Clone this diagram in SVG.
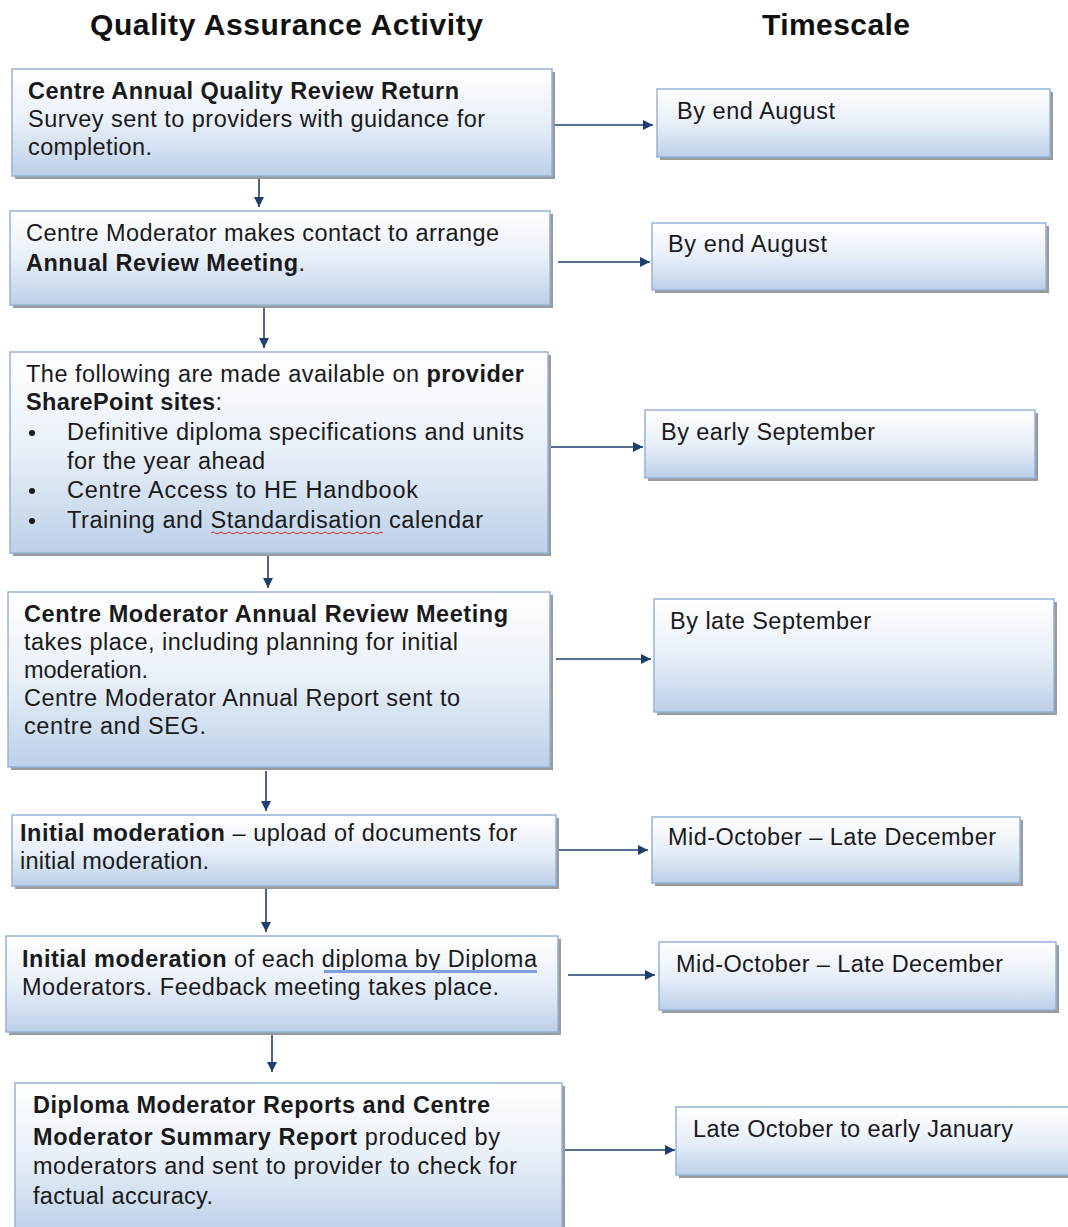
<svg xmlns="http://www.w3.org/2000/svg" width="1068" height="1227" viewBox="0 0 1068 1227">
<style>
.t{font-family:"Liberation Sans",Arial,sans-serif;font-size:23.5px;fill:#1a1a1a}
.h{font-family:"Liberation Sans",Arial,sans-serif;font-size:30px;font-weight:bold;fill:#111}
.b{font-weight:bold}
.box{fill:url(#g);stroke:#95b3d7;stroke-width:1.5}
.sh{fill:#9a9a9a}
.c{stroke:#1f3f6e;stroke-width:1.6;fill:none;marker-end:url(#ah)}
</style>
<defs>
<linearGradient id="g" x1="0" y1="0" x2="0" y2="1">
<stop offset="0" stop-color="#ffffff"/>
<stop offset="0.5" stop-color="#e8eff8"/>
<stop offset="1" stop-color="#bcd0e8"/>
</linearGradient>
<marker id="ah" viewBox="0 0 10 10" refX="10" refY="5" markerWidth="10" markerHeight="10" markerUnits="userSpaceOnUse" orient="auto">
<path d="M0,0 L10,5 L0,10 z" fill="#1f3f6e"/>
</marker>
</defs>
<text class="h" x="90" y="35" textLength="393" lengthAdjust="spacing">Quality Assurance Activity</text>
<text class="h" x="762" y="35" textLength="148" lengthAdjust="spacing">Timescale</text>

<g id="connectors">
<line class="c" x1="259" y1="177" x2="259" y2="207"/>
<line class="c" x1="264" y1="307" x2="264" y2="348"/>
<line class="c" x1="268" y1="556" x2="268" y2="588"/>
<line class="c" x1="266" y1="771" x2="266" y2="811"/>
<line class="c" x1="266" y1="889" x2="266" y2="932"/>
<line class="c" x1="272" y1="1035" x2="272" y2="1072"/>
<line class="c" x1="555" y1="125" x2="653" y2="125"/>
<line class="c" x1="558" y1="262" x2="650" y2="262"/>
<line class="c" x1="550" y1="447" x2="643" y2="447"/>
<line class="c" x1="556" y1="659" x2="651" y2="659"/>
<line class="c" x1="550" y1="850" x2="648" y2="850"/>
<line class="c" x1="568" y1="975" x2="655" y2="975"/>
<line class="c" x1="565" y1="1150" x2="675" y2="1150"/>
</g>

<g id="n1">
<rect class="sh" x="15" y="72" width="540" height="107"/>
<rect class="box" x="12" y="69" width="540" height="107"/>
<text class="t b" x="28" y="99" textLength="431" lengthAdjust="spacing">Centre Annual Quality Review Return</text>
<text class="t" x="28" y="127" textLength="457" lengthAdjust="spacing">Survey sent to providers with guidance for</text>
<text class="t" x="28" y="155" textLength="124" lengthAdjust="spacing">completion.</text>
</g>
<g id="t1">
<rect class="sh" x="660" y="92" width="393" height="68"/>
<rect class="box" x="657" y="89" width="393" height="68"/>
<text class="t" x="677" y="119" textLength="158" lengthAdjust="spacing">By end August</text>
</g>

<g id="n2">
<rect class="sh" x="13" y="214" width="540" height="94"/>
<rect class="box" x="10" y="211" width="540" height="94"/>
<text class="t" x="26" y="241" textLength="473" lengthAdjust="spacing">Centre Moderator makes contact to arrange</text>
<text class="t" x="26" y="271" textLength="279" lengthAdjust="spacing"><tspan class="b">Annual Review Meeting</tspan>.</text>
</g>
<g id="t2">
<rect class="sh" x="655" y="226" width="394" height="67"/>
<rect class="box" x="652" y="223" width="394" height="67"/>
<text class="t" x="668" y="252" textLength="159" lengthAdjust="spacing">By end August</text>
</g>

<g id="n3">
<rect class="sh" x="13" y="355" width="538" height="201"/>
<rect class="box" x="10" y="352" width="538" height="201"/>
<text class="t" x="26" y="382" textLength="498" lengthAdjust="spacing">The following are made available on <tspan class="b">provider</tspan></text>
<text class="t" x="26" y="410" textLength="196" lengthAdjust="spacing"><tspan class="b">SharePoint sites</tspan>:</text>
<circle cx="32" cy="433" r="3" fill="#1a1a1a"/>
<text class="t" x="67" y="440" textLength="457" lengthAdjust="spacing">Definitive diploma specifications and units</text>
<text class="t" x="67" y="469" textLength="198" lengthAdjust="spacing">for the year ahead</text>
<circle cx="32" cy="491" r="3" fill="#1a1a1a"/>
<text class="t" x="67" y="498" textLength="351" lengthAdjust="spacing">Centre Access to HE Handbook</text>
<circle cx="32" cy="521" r="3" fill="#1a1a1a"/>
<text class="t" x="67" y="528" textLength="416" lengthAdjust="spacing">Training and Standardisation calendar</text>
<path d="M211,533 q2,-2 4,0 t4,0 t4,0 t4,0 t4,0 t4,0 t4,0 t4,0 t4,0 t4,0 t4,0 t4,0 t4,0 t4,0 t4,0 t4,0 t4,0 t4,0 t4,0 t4,0 t4,0 t4,0 t4,0 t4,0 t4,0 t4,0 t4,0 t4,0 t4,0 t4,0 t4,0 t4,0 t4,0 t4,0 t4,0 t4,0 t4,0 t4,0 t4,0 t4,0 t4,0 t4,0 t4,0" fill="none" stroke="#e03030" stroke-width="1"/>
</g>
<g id="t3">
<rect class="sh" x="648" y="413" width="390" height="68"/>
<rect class="box" x="645" y="410" width="390" height="68"/>
<text class="t" x="661" y="440" textLength="214" lengthAdjust="spacing">By early September</text>
</g>

<g id="n4">
<rect class="sh" x="11" y="595" width="542" height="175"/>
<rect class="box" x="8" y="592" width="542" height="175"/>
<text class="t b" x="24" y="622" textLength="484" lengthAdjust="spacing">Centre Moderator Annual Review Meeting</text>
<text class="t" x="24" y="650" textLength="434" lengthAdjust="spacing">takes place, including planning for initial</text>
<text class="t" x="24" y="678" textLength="124" lengthAdjust="spacing">moderation.</text>
<text class="t" x="24" y="706" textLength="436" lengthAdjust="spacing">Centre Moderator Annual Report sent to</text>
<text class="t" x="24" y="734" textLength="182" lengthAdjust="spacing">centre and SEG.</text>
</g>
<g id="t4">
<rect class="sh" x="657" y="602" width="400" height="113"/>
<rect class="box" x="654" y="599" width="400" height="113"/>
<text class="t" x="670" y="629" textLength="201" lengthAdjust="spacing">By late September</text>
</g>

<g id="n5">
<rect class="sh" x="15" y="818" width="544" height="71"/>
<rect class="box" x="12" y="815" width="544" height="71"/>
<text class="t" x="20" y="841" textLength="497" lengthAdjust="spacing"><tspan class="b">Initial moderation</tspan> – upload of documents for</text>
<text class="t" x="20" y="869" textLength="189" lengthAdjust="spacing">initial moderation.</text>
</g>
<g id="t5">
<rect class="sh" x="655" y="820" width="368" height="66"/>
<rect class="box" x="652" y="817" width="368" height="66"/>
<text class="t" x="668" y="845" textLength="328" lengthAdjust="spacing">Mid-October – Late December</text>
</g>

<g id="n6">
<rect class="sh" x="9" y="939" width="552" height="96"/>
<rect class="box" x="6" y="936" width="552" height="96"/>
<text class="t" x="22" y="967" textLength="515" lengthAdjust="spacing"><tspan class="b">Initial moderation</tspan> of each diploma by Diploma</text>
<text class="t" x="22" y="995" textLength="477" lengthAdjust="spacing">Moderators. Feedback meeting takes place.</text>
<path d="M324,971.5 H537" stroke="#7f9fe0" stroke-width="3" fill="none"/>
</g>
<g id="t6">
<rect class="sh" x="662" y="945" width="397" height="68"/>
<rect class="box" x="659" y="942" width="397" height="68"/>
<text class="t" x="676" y="972" textLength="327" lengthAdjust="spacing">Mid-October – Late December</text>
</g>

<g id="n7">
<rect class="sh" x="18" y="1086" width="547" height="150"/>
<rect class="box" x="15" y="1083" width="547" height="150"/>
<text class="t b" x="33" y="1113" textLength="457" lengthAdjust="spacing">Diploma Moderator Reports and Centre</text>
<text class="t" x="33" y="1145" textLength="467" lengthAdjust="spacing"><tspan class="b">Moderator Summary Report</tspan> produced by</text>
<text class="t" x="33" y="1174" textLength="484" lengthAdjust="spacing">moderators and sent to provider to check for</text>
<text class="t" x="33" y="1204" textLength="180" lengthAdjust="spacing">factual accuracy.</text>
</g>
<g id="t7">
<rect class="sh" x="679" y="1110" width="400" height="68"/>
<rect class="box" x="676" y="1107" width="400" height="68"/>
<text class="t" x="693" y="1137" textLength="320" lengthAdjust="spacing">Late October to early January</text>
</g>
</svg>
